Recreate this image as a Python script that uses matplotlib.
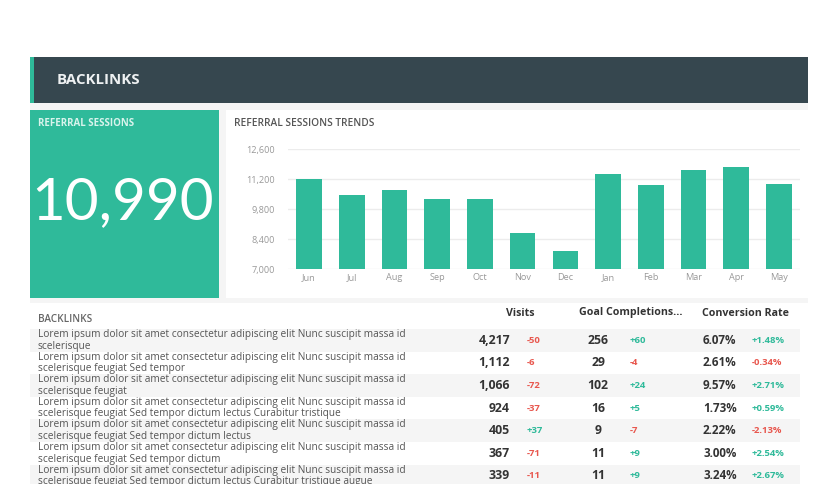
import matplotlib.pyplot as plt
from matplotlib.patches import Rectangle

# chart data
months = ['Jun', 'Jul', 'Aug', 'Sep', 'Oct', 'Nov', 'Dec', 'Jan', 'Feb', 'Mar', 'Apr', 'May']
sessions = [11220, 10440, 10690, 10270, 10270, 8680, 7840, 11430, 10940, 11610, 11780, 10970]
y_ticks = [7000, 8400, 9800, 11200, 12600]
total_sessions = '10,990'

# table data
lorem = 'Lorem ipsum dolor sit amet consectetur adipiscing elit Nunc suscipit massa id\n'
link_tails = [
    'scelerisque',
    'scelerisque feugiat Sed tempor',
    'scelerisque feugiat',
    'scelerisque feugiat Sed tempor dictum lectus Curabitur tristique',
    'scelerisque feugiat Sed tempor dictum lectus',
    'scelerisque feugiat Sed tempor dictum',
    'scelerisque feugiat Sed tempor dictum lectus Curabitur tristique augue',
]
visits = [4217, 1112, 1066, 924, 405, 367, 339]
visits_delta = [-50, -6, -72, -37, 37, -71, -11]
goals = [256, 29, 102, 16, 9, 11, 11]
goals_delta = [60, -4, 24, 5, -7, 9, 9]
conv_rate = [6.07, 2.61, 9.57, 1.73, 2.22, 3.00, 3.24]
conv_delta = [1.48, -0.34, 2.71, 0.59, -2.13, 2.54, 2.67]

W, H = 836, 484
TEAL = '#2fba9a'
DARK = '#36474f'
RED = '#e8574e'
FONT = ['Open Sans', 'DejaVu Sans']

plt.rcParams['font.family'] = FONT

fig = plt.figure(figsize=(W / 100, H / 100), dpi=100)
fig.patch.set_facecolor('white')

# background layer in pixel coordinates
bg = fig.add_axes([0, 0, 1, 1], zorder=0)
bg.set_xlim(0, W)
bg.set_ylim(H, 0)
bg.axis('off')

def box(x0, y0, x1, y1, color, **kw):
    bg.add_patch(Rectangle((x0, y0), x1 - x0, y1 - y0, facecolor=color, edgecolor='none', **kw))

box(30, 103, 808, H, '#f5f5f5')
box(30, 57, 808, 103, DARK)
box(30, 57, 34, 103, TEAL)
bg.text(57, 80.5, 'BACKLINKS', color='#eef1f2', fontsize=10.8, fontweight='bold', va='center')

# big number tile
box(30, 110, 219, 298, TEAL)
bg.text(38, 123, 'REFERRAL SESSIONS', color='#d9f3ec', fontsize=7.0, fontweight='bold', va='center')
bg.text(123, 203, total_sessions, color='white', fontsize=42, family=['Lato', 'DejaVu Sans'],
        fontweight='normal', ha='center', va='center')

# chart panel
box(226, 110, 808, 298, 'white')
bg.text(234, 123, 'REFERRAL SESSIONS TRENDS', color='#555555', fontsize=7.3, fontweight='semibold', va='center')

# table panel
box(30, 303, 808, H, 'white')
bg.text(38, 319, 'BACKLINKS', color='#666666', fontsize=7.2, fontweight='semibold', va='center')
bg.text(520, 313, 'Visits', color='#333333', fontsize=7.7, fontweight='bold', ha='center', va='center')
bg.text(631, 313, 'Goal Completions...', color='#333333', fontsize=7.7, fontweight='bold', ha='center', va='center')
bg.text(745, 313, 'Conversion Rate', color='#333333', fontsize=7.7, fontweight='bold', ha='center', va='center')

row_top = 329
row_h = 22.6
for i, tail in enumerate(link_tails):
    y0 = row_top + i * row_h
    yc = y0 + row_h / 2
    if i % 2 == 0:
        box(30, y0, 800, y0 + row_h, '#f5f5f5')
    bg.text(38, yc, lorem + tail, color='#555555', fontsize=7.3, va='center', linespacing=1.08)
    bg.text(510, yc, f'{visits[i]:,}', color='#333333', fontsize=8.8, fontweight='bold', ha='right', va='center')
    d = visits_delta[i]
    bg.text(527, yc, f'{d:+d}', color=TEAL if d > 0 else RED, fontsize=6.8, fontweight='bold', va='center')
    bg.text(598, yc, f'{goals[i]}', color='#333333', fontsize=8.8, fontweight='bold', ha='center', va='center')
    d = goals_delta[i]
    bg.text(630, yc, f'{d:+d}', color=TEAL if d > 0 else RED, fontsize=6.8, fontweight='bold', va='center')
    bg.text(703, yc, f'{conv_rate[i]:.2f}%', color='#333333', fontsize=8.4, fontweight='bold', va='center')
    d = conv_delta[i]
    bg.text(752, yc, f'{d:+.2f}%', color=TEAL if d > 0 else RED, fontsize=6.8, fontweight='bold', va='center')

# bar chart
left, right, top, bottom = 287.6, 800.4, 149, 269
ax = fig.add_axes([left / W, 1 - bottom / H, (right - left) / W, (bottom - top) / H], zorder=2)
ax.patch.set_alpha(0)
x = range(len(months))
ax.bar(x, [v - y_ticks[0] for v in sessions], bottom=y_ticks[0], width=0.6, color=TEAL, zorder=3)
ax.set_xlim(-0.5, len(months) - 0.5)
ax.set_ylim(y_ticks[0], y_ticks[-1])
ax.set_yticks(y_ticks)
ax.set_yticklabels([f'{t:,}' for t in y_ticks])
ax.set_xticks(list(x))
ax.set_xticklabels(months)
ax.grid(axis='y', color='#ececec', linewidth=1, zorder=0)
ax.tick_params(length=0, labelsize=6.6, labelcolor='#999999', pad=3)
ax.tick_params(axis='y', pad=9)
for s in ax.spines.values():
    s.set_visible(False)
ax.set_axisbelow(True)

fig.savefig('out.png', dpi=100)
